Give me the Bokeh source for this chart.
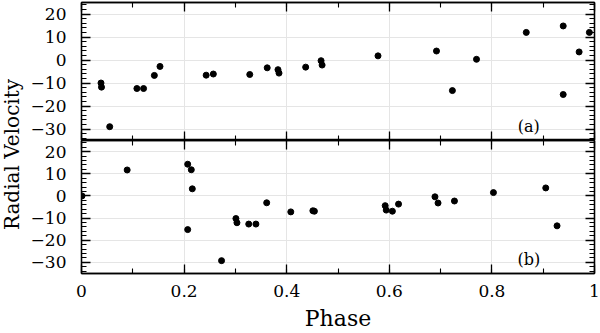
import math
from bokeh.plotting import figure
from bokeh.layouts import row, column
from bokeh.models import LinearAxis, FixedTicker, Label, Range1d
from bokeh.embed import file_html
from bokeh.resources import INLINE

# ---- data ----
phase_a = [0.038, 0.039, 0.055, 0.108, 0.121, 0.142, 0.153, 0.243, 0.257, 0.328,
           0.362, 0.383, 0.385, 0.437, 0.467, 0.469, 0.578, 0.692, 0.723, 0.770,
           0.867, 0.939, 0.939, 0.970, 0.990]
rv_a = [-10.0, -11.8, -29.0, -12.4, -12.4, -6.7, -2.8, -6.6, -6.1, -6.3,
        -3.4, -4.2, -5.7, -3.1, -0.3, -2.2, 1.8, 3.9, -13.3, 0.3,
        12.0, 14.8, -15.0, 3.5, 12.0]

phase_b = [0.001, 0.089, 0.207, 0.214, 0.216, 0.207, 0.273, 0.301, 0.303, 0.326,
           0.340, 0.361, 0.408, 0.451, 0.454, 0.592, 0.594, 0.606, 0.618, 0.689,
           0.695, 0.727, 0.803, 0.905, 0.927]
rv_b = [0.0, 11.7, 14.3, 11.8, 3.2, -15.2, -29.2, -10.2, -12.1, -12.7,
        -12.7, -3.1, -7.2, -6.7, -6.9, -4.4, -6.4, -6.9, -3.7, -0.4,
        -3.2, -2.3, 1.5, 3.6, -13.5]

y_major = [-30, -20, -10, 0, 10, 20]
y_minor = list(range(-34, 25, 2))
x_major = [0, 0.2, 0.4, 0.6, 0.8, 1.0]
x_minor = [round(0.1 * i, 1) for i in range(11)]
x_labels = {0: "0", 0.2: "0.2", 0.4: "0.4", 0.6: "0.6", 0.8: "0.8", 1.0: "1"}
panel_tags = ["(a)", "(b)"]
x_title = "Phase"
y_title = "Radial Velocity"

FONT = "DejaVu Serif"
LAB_W = 24
W = 576
LEFT = 57
RIGHT = 6
TOP_H = 140      # 2 px border + 138 px frame
BOT_FRAME = 137
BOT_BORDER = 56


def style_axis(ax, labels):
    ax.axis_line_color = "black"
    ax.axis_line_width = 1.3
    ax.major_tick_line_color = "black"
    ax.major_tick_line_width = 1.3
    ax.minor_tick_line_color = "black"
    ax.minor_tick_line_width = 1.1
    ax.major_tick_out = 0
    ax.minor_tick_out = 0
    ax.major_tick_in = 9
    ax.minor_tick_in = 5
    if labels:
        ax.major_label_text_font = FONT
        ax.major_label_text_font_size = "17px"
        ax.major_label_text_color = "black"
    else:
        ax.major_label_text_color = None
        ax.major_label_text_font_size = "0px"
        ax.major_label_standoff = 0


def make_panel(phase, rv, tag, bottom):
    h = BOT_FRAME + BOT_BORDER if bottom else TOP_H
    p = figure(width=W, height=h, x_range=Range1d(0, 1), y_range=Range1d(-35, 25),
               output_backend="svg", toolbar_location=None,
               x_axis_location=None, y_axis_location=None,
               min_border_left=LEFT, min_border_right=RIGHT,
               min_border_top=0 if bottom else 2,
               min_border_bottom=BOT_BORDER if bottom else 0)
    p.outline_line_color = "black"
    p.outline_line_width = 1.3
    p.background_fill_color = "white"
    p.border_fill_color = "white"

    yt = FixedTicker(ticks=y_major, minor_ticks=y_minor)
    xt = FixedTicker(ticks=x_major, minor_ticks=x_minor)

    left = LinearAxis(ticker=yt)
    style_axis(left, True)
    left.major_label_standoff = 15
    p.add_layout(left, "left")

    right = LinearAxis(ticker=yt)
    style_axis(right, False)
    p.add_layout(right, "right")

    above = LinearAxis(ticker=xt)
    style_axis(above, False)
    p.add_layout(above, "above")

    below = LinearAxis(ticker=xt)
    if bottom:
        style_axis(below, True)
        below.major_label_overrides = x_labels
        below.major_label_standoff = 11
        below.axis_label = x_title
        below.axis_label_text_font = FONT
        below.axis_label_text_font_size = "22px"
        below.axis_label_text_font_style = "normal"
        below.axis_label_text_color = "black"
        below.axis_label_standoff = 6
    else:
        style_axis(below, False)
    p.add_layout(below, "below")

    p.scatter(phase, rv, size=6, color="black")
    p.add_layout(Label(x=0.872, y=-28.7, text=tag, text_font=FONT,
                       text_font_size="16px", text_align="center",
                       text_baseline="middle", text_color="black"))
    return p


top = make_panel(phase_a, rv_a, panel_tags[0], False)
bot = make_panel(phase_b, rv_b, panel_tags[1], True)

TOTAL_H = TOP_H + BOT_FRAME + BOT_BORDER
lab = figure(width=LAB_W, height=TOTAL_H, output_backend="svg", toolbar_location=None,
             x_axis_location=None, y_axis_location=None, min_border=0,
             x_range=Range1d(0, 1), y_range=Range1d(0, 1))
lab.outline_line_color = None
lab.grid.visible = False
lab.add_layout(Label(x=11, y=TOTAL_H - 154, x_units="screen", y_units="screen",
                     text=y_title, angle=math.pi / 2,
                     text_font=FONT, text_font_size="20px",
                     text_align="center", text_baseline="middle",
                     text_color="black"))

layout = row(lab, column(top, bot))

with open("out.html", "w") as f:
    f.write(file_html(layout, INLINE))
